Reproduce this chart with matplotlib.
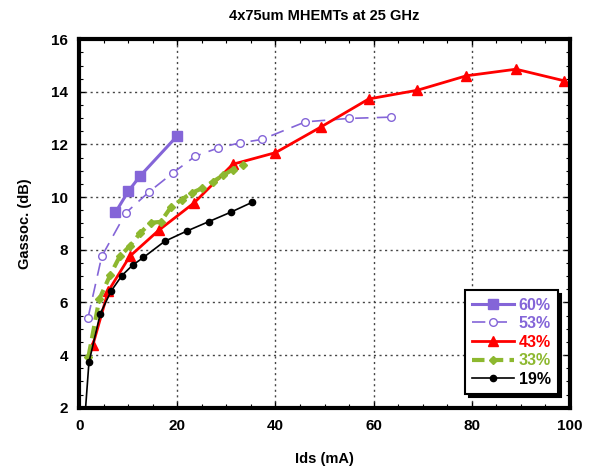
import matplotlib
matplotlib.use('Agg')
import matplotlib.pyplot as plt
from matplotlib.ticker import MultipleLocator

plt.rcParams['font.family'] = ['Liberation Sans', 'DejaVu Sans']
plt.rcParams['font.weight'] = 'bold'

# data
ids_60 = [7.4, 10.0, 12.4, 20.0]
g_60 = [9.42, 10.22, 10.8, 12.33]

ids_53 = [1.8, 4.6, 9.5, 14.3, 19.1, 23.6, 28.2, 32.7, 37.2, 46.1, 54.9, 63.6]
g_53 = [5.41, 7.75, 9.4, 10.21, 10.92, 11.55, 11.86, 12.06, 12.19, 12.86, 12.99, 13.04]

ids_43 = [2.8, 5.9, 10.3, 16.2, 23.4, 31.3, 40.0, 49.3, 59.0, 68.9, 78.9, 89.0, 98.8]
g_43 = [4.39, 6.42, 7.75, 8.74, 9.78, 11.25, 11.69, 12.67, 13.73, 14.06, 14.61, 14.86, 14.42]

ids_33 = [1.9, 4.1, 6.3, 8.3, 10.4, 12.5, 14.6, 16.6, 18.7, 20.9, 22.9, 25.1, 27.2, 29.3, 31.3, 33.4]
g_33 = [3.94, 6.12, 7.03, 7.76, 8.16, 8.65, 9.03, 9.06, 9.62, 9.91, 10.16, 10.34, 10.58, 10.83, 11.05, 11.23]

ids_19 = [1.0, 2.0, 4.3, 6.5, 8.7, 10.9, 13.1, 17.4, 21.9, 26.4, 30.9, 35.3]
g_19 = [1.2, 3.73, 5.57, 6.43, 7.02, 7.42, 7.71, 8.32, 8.71, 9.07, 9.43, 9.81]

purple = '#8465d8'
green = '#8db82f'

fig = plt.figure(figsize=(5.95, 4.72), dpi=100)
ax = fig.add_axes([0.133, 0.136, 0.825, 0.781])

ax.plot(ids_60, g_60, '-s', color=purple, lw=2.2, ms=6.5, label='60%')
ax.plot(ids_53, g_53, '--o', color=purple, lw=1.2, ms=5.5, mfc='white', mew=1.0,
        dashes=(8, 5), label='53%')
ax.plot(ids_43, g_43, '-^', color='red', lw=2.0, ms=7.5, label='43%')
ax.plot(ids_33, g_33, '--D', color=green, lw=3.0, ms=4.5, dashes=(3, 1.5), label='33%')
ax.plot(ids_19, g_19, '-o', color='black', lw=1.2, ms=4.5, label='19%')

ax.set_xlim(0, 100)
ax.set_ylim(2, 16)
ax.xaxis.set_major_locator(MultipleLocator(20))
ax.xaxis.set_minor_locator(MultipleLocator(5))
ax.yaxis.set_major_locator(MultipleLocator(2))
ax.yaxis.set_minor_locator(MultipleLocator(0.5))
ax.tick_params(which='both', direction='in', top=True, right=True, labelsize=11)
ax.tick_params(which='major', length=4, width=1, pad=8)
ax.tick_params(which='minor', length=3, width=0.8)
ax.grid(True, which='major', color='#444444', ls=(0, (1.5, 2.5)), lw=1)
for s in ax.spines.values():
    s.set_linewidth(3)

ax.set_title('4x75um MHEMTs at 25 GHz', fontsize=10.5, fontweight='bold', pad=14)
ax.set_xlabel('Ids (mA)', fontsize=10.5, fontweight='bold', labelpad=14)
ax.set_ylabel('Gassoc. (dB)', fontsize=10.5, fontweight='bold', labelpad=14)

leg = ax.legend(loc='lower right', bbox_to_anchor=(0.985, 0.025), fontsize=11.5,
                frameon=True, fancybox=False, framealpha=1,
                shadow={'color': 'black', 'alpha': 1, 'ox': 2.5, 'oy': -2.5},
                handlelength=2.6, borderpad=0.45, labelspacing=0.22,
                handletextpad=0.3, borderaxespad=0.3)
leg.get_frame().set_edgecolor('black')
leg.get_frame().set_linewidth(1.5)
for line, txt in zip(leg.get_lines(), leg.get_texts()):
    txt.set_color(line.get_color())
    txt.set_fontweight('bold')

fig.savefig('out.png', dpi=100)
